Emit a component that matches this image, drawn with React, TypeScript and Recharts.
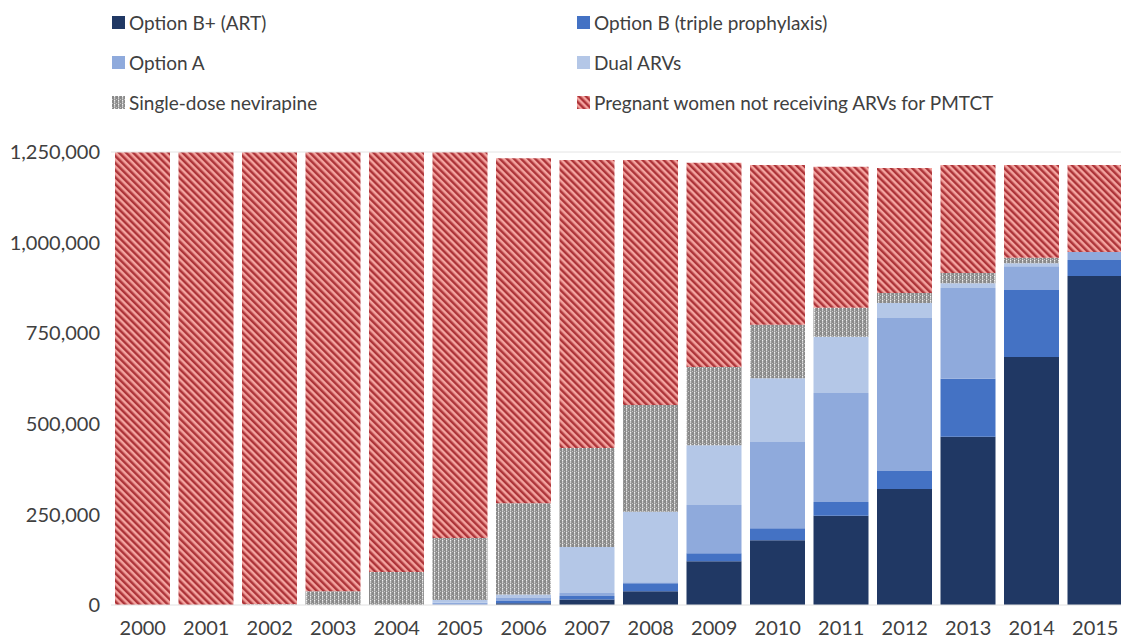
import React from 'react'
import { Bar, BarChart, ReferenceLine, XAxis, YAxis } from 'recharts'

// Values (pregnant women, by PMTCT regimen)
const YEARS = ['2000', '2001', '2002', '2003', '2004', '2005', '2006', '2007', '2008', '2009', '2010', '2011', '2012', '2013', '2014', '2015']

const OPTION_B_PLUS = [0, 0, 0, 0, 0, 0, 5000, 15000, 38000, 121000, 179000, 246000, 320000, 464000, 684000, 908000]
const OPTION_B = [0, 0, 0, 0, 0, 0, 6000, 10000, 22000, 22000, 33000, 38000, 50000, 160000, 185000, 44000]
const OPTION_A = [0, 0, 0, 0, 0, 6000, 8000, 8000, 3000, 133000, 238000, 301000, 422000, 251000, 66000, 22000]
const DUAL_ARVS = [0, 0, 0, 0, 0, 8000, 10000, 127000, 194000, 165000, 176000, 155000, 41000, 13000, 8000, 0]
const SINGLE_DOSE = [0, 0, 2000, 38000, 91000, 171000, 252000, 273000, 295000, 216000, 147000, 80000, 28000, 28000, 15000, 0]
const NOT_RECEIVING = [1250000, 1250000, 1248000, 1212000, 1159000, 1065000, 952000, 795000, 676000, 563000, 441000, 389000, 345000, 298000, 256000, 240000]

const Y_TICKS = [0, 250000, 500000, 750000, 1000000, 1250000]

const data = YEARS.map((year, i) => ({
  year,
  bplus: OPTION_B_PLUS[i],
  b: OPTION_B[i],
  a: OPTION_A[i],
  dual: DUAL_ARVS[i],
  sd: SINGLE_DOSE[i],
  none: NOT_RECEIVING[i],
}))

const FONT = 'Lato, "Open Sans", sans-serif'
const TEXT = '#404040'

const NAVY = '#203864'
const BLUE = '#4472c4'
const MID = '#8faadc'
const LIGHT = '#b4c7e7'

function Patterns({ suffix }: { suffix: string }) {
  return (
    <defs>
      <pattern id={'red' + suffix} width="5" height="5" patternUnits="userSpaceOnUse" patternTransform="rotate(-45)">
        <rect width="5" height="5" fill="#f4a4a0" />
        <rect width="2.5" height="5" fill="#ad3439" />
      </pattern>
      <pattern id={'gray' + suffix} width="4" height="4" patternUnits="userSpaceOnUse">
        <rect width="4" height="4" fill="#8a8a8a" />
        <rect x="2" y="0" width="1.2" height="1.6" fill="#f2f2f2" />
        <rect x="2" y="2.2" width="1.2" height="1.2" fill="#e6e6e6" />
        <rect x="0" y="3" width="0.8" height="1" fill="#d0d0d0" />
      </pattern>
    </defs>
  )
}

const LEGEND = [
  { label: 'Option B+ (ART)', fill: NAVY, col: 0, row: 0 },
  { label: 'Option A', fill: MID, col: 0, row: 1 },
  { label: 'Single-dose nevirapine', fill: 'url(#grayL)', col: 0, row: 2 },
  { label: 'Option B (triple prophylaxis)', fill: BLUE, col: 1, row: 0 },
  { label: 'Dual ARVs', fill: LIGHT, col: 1, row: 1 },
  { label: 'Pregnant women not receiving ARVs for PMTCT', fill: 'url(#redL)', col: 1, row: 2 },
]

function LegendBlock() {
  return (
    <div style={{ position: 'absolute', left: 0, top: 0, width: 1121, height: 130 }}>
      <svg width="0" height="0" style={{ position: 'absolute' }}>
        <Patterns suffix="L" />
      </svg>
      {LEGEND.map((item) => (
        <div
          key={item.label}
          style={{
            position: 'absolute',
            left: item.col === 0 ? 112 : 577,
            top: 22 + item.row * 40 - 12,
            height: 24,
            display: 'flex',
            alignItems: 'center',
            fontFamily: FONT,
            fontSize: 19,
            color: TEXT,
            whiteSpace: 'nowrap',
          }}
        >
          <svg width="13" height="13" style={{ marginRight: 4 }}>
            <rect width="13" height="13" fill={item.fill} />
          </svg>
          {item.label}
        </div>
      ))}
    </div>
  )
}

export default function App() {
  return (
    <div style={{ position: 'absolute', left: 0, top: 0, width: 1121, height: 640, overflow: 'hidden', background: '#fff' }}>
      <LegendBlock />
      <div style={{ position: 'absolute', left: 0, top: 0 }}>
        <BarChart width={1127} height={640} data={data} margin={{ top: 152, right: 0, bottom: 0, left: 0 }} barSize={55}>
          <Patterns suffix="C" />
          <XAxis
            dataKey="year"
            height={35}
            tickLine={false}
            axisLine={{ stroke: '#e0e0e0' }}
            tickMargin={10}
            tick={{ fill: TEXT, fontSize: 20, fontFamily: FONT }}
            interval={0}
          />
          <YAxis
            width={111}
            domain={[0, 1250000]}
            ticks={Y_TICKS}
            tickLine={false}
            axisLine={false}
            tickMargin={5}
            tick={{ fill: TEXT, fontSize: 20, fontFamily: FONT }}
            tickFormatter={(v: number) => v.toLocaleString('en-US')}
          />
          <ReferenceLine y={1250000} stroke="#e4e4e4" />
          <Bar dataKey="bplus" stackId="s" fill={NAVY} isAnimationActive={false} />
          <Bar dataKey="b" stackId="s" fill={BLUE} isAnimationActive={false} />
          <Bar dataKey="a" stackId="s" fill={MID} isAnimationActive={false} />
          <Bar dataKey="dual" stackId="s" fill={LIGHT} isAnimationActive={false} />
          <Bar dataKey="sd" stackId="s" fill="url(#grayC)" isAnimationActive={false} />
          <Bar dataKey="none" stackId="s" fill="url(#redC)" isAnimationActive={false} />
        </BarChart>
      </div>
    </div>
  )
}
